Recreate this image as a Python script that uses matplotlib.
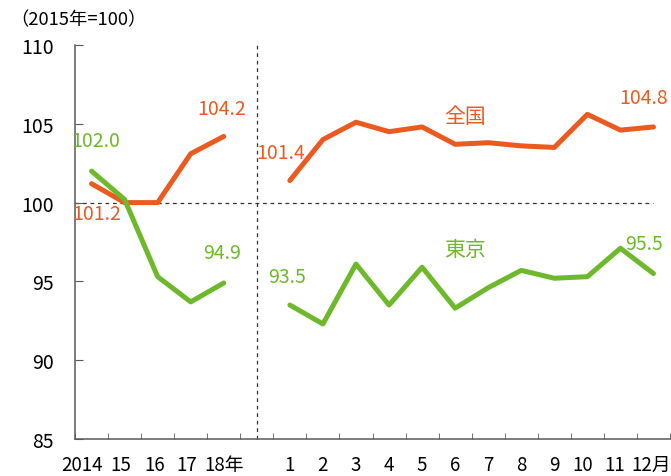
import matplotlib
matplotlib.use("Agg")
from matplotlib import pyplot as plt
from matplotlib.transforms import ScaledTranslation
import numpy as np

plt.rcParams['font.family'] = ['Noto Sans CJK JP', 'DejaVu Sans']

# annual (2014-18) and monthly (1-12) indices, 2015=100
years = ['2014', '15', '16', '17', '18年']
months = ['1', '2', '3', '4', '5', '6', '7', '8', '9', '10', '11', '12月']

zenkoku_year = [101.2, 100.0, 100.0, 103.1, 104.2]
tokyo_year = [102.0, 100.2, 95.3, 93.7, 94.9]
zenkoku_month = [101.4, 104.0, 105.1, 104.5, 104.8, 103.7, 103.8, 103.6, 103.5, 105.6, 104.6, 104.8]
tokyo_month = [93.5, 92.3, 96.1, 93.5, 95.9, 93.3, 94.6, 95.7, 95.2, 95.3, 97.1, 95.5]

orange = '#EB5A1E'
green = '#6DB92B'

x_year = np.arange(len(years))
x_month = np.arange(len(months)) + len(years) + 1
labels = years + [''] + months

fig = plt.figure(figsize=(6.71, 4.77), dpi=100)
ax = fig.add_axes([75 / 671, 1 - 440 / 477, 595 / 671, 394 / 477])

ax.plot(x_year, zenkoku_year, color=orange, lw=3.6, solid_capstyle='round')
ax.plot(x_year, tokyo_year, color=green, lw=3.6, solid_capstyle='round')
ax.plot(x_month, zenkoku_month, color=orange, lw=3.6, solid_capstyle='round')
ax.plot(x_month, tokyo_month, color=green, lw=3.6, solid_capstyle='round')

# reference lines
ax.hlines(100, -0.5, x_month[-1], colors='#333333', linestyles=(0, (3, 3)), lw=0.9, zorder=0)
ax.vlines(len(years), 85, 110.2, colors='#333333', linestyles=(0, (3, 3)), lw=0.9, clip_on=False)

ax.set_xlim(-0.5, len(labels) - 0.5)
ax.set_ylim(85, 110)
ax.set_yticks([85, 90, 95, 100, 105, 110])
ax.set_xticks(np.arange(len(labels)))
ax.set_xticklabels(labels)
ax.set_xticks(np.arange(len(labels) + 1) - 0.5, minor=True)

for s in ['top', 'right']:
    ax.spines[s].set_visible(False)
for s in ['left', 'bottom']:
    ax.spines[s].set_color('#595959')
    ax.spines[s].set_linewidth(1.1)

ax.tick_params(axis='x', which='major', length=0, pad=10.5, labelsize=13.5)
ax.tick_params(axis='x', which='minor', direction='in', length=4.5, color='#595959')
ax.tick_params(axis='y', direction='in', length=5.5, color='#595959', pad=15.5, labelsize=14)

# small left shifts of some category labels (pixels)
shift = {'2014': -10, '15': -4, '16': -3, '17': -4, '10': -5, '11': -6, '12月': -2}
for t in ax.get_xticklabels():
    dx = shift.get(t.get_text(), 0)
    if dx:
        t.set_transform(t.get_transform() + ScaledTranslation(dx / 100, 0, fig.dpi_scale_trans))

def label(x, y, txt, color, dx, dy):
    ax.annotate(txt, (x, y), xytext=(dx, dy), textcoords='offset pixels',
                ha='center', va='center', color=color, fontsize=14)

label(x_year[-1], zenkoku_year[-1], '104.2', orange, -2, 28)
label(x_year[0], tokyo_year[0], '102.0', green, 4, 31)
label(x_year[0], zenkoku_year[0], '101.2', orange, 5, -30)
label(x_year[-1], tokyo_year[-1], '94.9', green, -2, 30)
label(x_month[0], zenkoku_month[0], '101.4', orange, -9, 28)
label(x_month[-1], zenkoku_month[-1], '104.8', orange, -10, 29)
label(x_month[0], tokyo_month[0], '93.5', green, -3, 29)
label(x_month[-1], tokyo_month[-1], '95.5', green, -9, 30)

ax.text(11.3, 105.5, '全国', color=orange, fontsize=15, ha='center', va='center')
ax.text(11.3, 97.06, '東京', color=green, fontsize=15, ha='center', va='center')

fig.text(10 / 671, 1 - 20 / 477, '（2015年=100）', fontsize=13.2, ha='left', va='center')

fig.savefig('out.png', dpi=100)
